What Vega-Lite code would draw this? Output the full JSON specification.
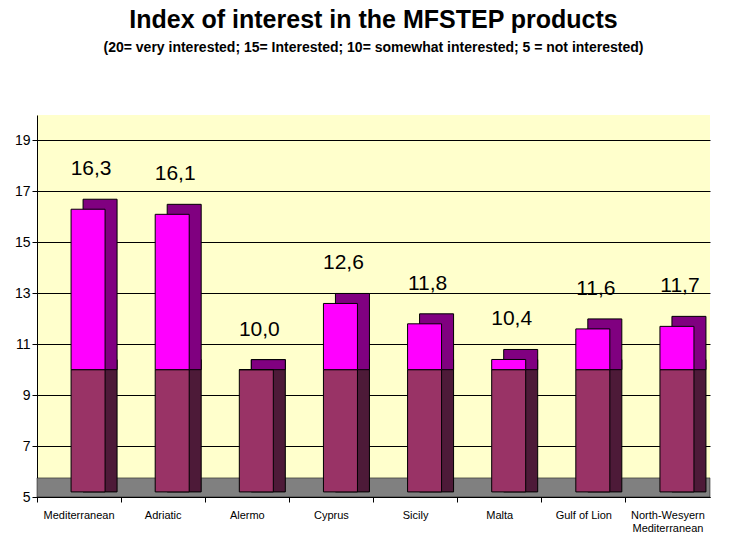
{
  "$schema": "https://vega.github.io/schema/vega-lite/v6.json",
  "autosize": "none",
  "width": 673,
  "height": 382,
  "padding": {"left": 37, "right": 20, "top": 115, "bottom": 36},
  "background": "white",
  "title": {
    "text": "Index of interest in the MFSTEP products",
    "subtitle": "(20= very interested; 15= Interested; 10= somewhat interested; 5 = not interested)",
    "font": "Liberation Sans",
    "fontSize": 25,
    "fontWeight": "bold",
    "color": "black",
    "subtitleFont": "Liberation Sans",
    "subtitleFontSize": 14,
    "subtitleFontWeight": "bold",
    "subtitleColor": "black",
    "subtitlePadding": 8,
    "anchor": "middle",
    "offset": 60
  },
  "config": {
    "view": {"fill": "#FFFFCC", "stroke": null},
    "locale": {"number": {"decimal": ",", "thousands": ".", "grouping": [3], "currency": ["", "€"]}},
    "font": "Liberation Sans"
  },
  "data": {
    "values": [
      {"region": "Mediterranean", "low": 10, "value": 16.3},
      {"region": "Adriatic", "low": 10, "value": 16.1},
      {"region": "Alermo", "low": 10, "value": 10.0},
      {"region": "Cyprus", "low": 10, "value": 12.6},
      {"region": "Sicily", "low": 10, "value": 11.8},
      {"region": "Malta", "low": 10, "value": 10.4},
      {"region": "Gulf of Lion", "low": 10, "value": 11.6},
      {"region": "North-Wesyern Mediterranean", "low": 10, "value": 11.7}
    ]
  },
  "encoding": {
    "x": {
      "field": "region",
      "type": "nominal",
      "sort": null,
      "scale": {"paddingInner": 0, "paddingOuter": 0},
      "axis": {
        "title": null,
        "labelAngle": 0,
        "labelFontSize": 11,
        "labelColor": "black",
        "labelPadding": 7,
        "tickSize": 5,
        "tickColor": "black",
        "domainColor": "black",
        "bandPosition": 0,
        "labelExpr": "datum.value == 'North-Wesyern Mediterranean' ? ['North-Wesyern', 'Mediterranean'] : datum.value"
      }
    }
  },
  "layer": [
    {
      "data": {"values": [{}]},
      "mark": {"type": "rect", "fill": "#808080", "stroke": "black", "strokeWidth": 0.5},
      "encoding": {
        "x": null,
        "y": {"datum": 5, "type": "quantitative"},
        "y2": {"datum": 5.75}
      }
    },
    {
      "mark": {"type": "bar", "width": 34, "xOffset": 21, "yOffset": -10, "fill": "#4D1A38", "stroke": "black", "strokeWidth": 1},
      "encoding": {
        "y": {"field": "low", "type": "quantitative"},
        "y2": {"datum": 5.2}
      }
    },
    {
      "mark": {"type": "bar", "width": 34, "xOffset": 21, "yOffset": -10, "fill": "#800080", "stroke": "black", "strokeWidth": 1},
      "encoding": {
        "y": {"field": "value", "type": "quantitative"},
        "y2": {"field": "low"}
      }
    },
    {
      "mark": {"type": "bar", "width": 34, "xOffset": 9, "fill": "#993366", "stroke": "black", "strokeWidth": 1},
      "encoding": {
        "y": {"field": "low", "type": "quantitative"},
        "y2": {"datum": 5.2}
      }
    },
    {
      "mark": {"type": "bar", "width": 34, "xOffset": 9, "fill": "#FF00FF", "stroke": "black", "strokeWidth": 1},
      "encoding": {
        "y": {
          "field": "value",
          "type": "quantitative",
          "scale": {"domain": [5, 20], "nice": false, "zero": false},
          "axis": {
            "title": null,
            "values": [5, 7, 9, 11, 13, 15, 17, 19],
            "labelFontSize": 14,
            "labelColor": "black",
            "tickSize": 5,
            "tickColor": "black",
            "domainColor": "black",
            "grid": true,
            "gridColor": "black",
            "gridWidth": 1
          }
        },
        "y2": {"field": "low"}
      }
    },
    {
      "mark": {"type": "text", "fontSize": 21, "color": "black", "xOffset": 12, "dy": -34, "baseline": "alphabetic"},
      "encoding": {
        "y": {"field": "value", "type": "quantitative"},
        "text": {"field": "value", "type": "quantitative", "format": ".1f"}
      }
    }
  ]
}
